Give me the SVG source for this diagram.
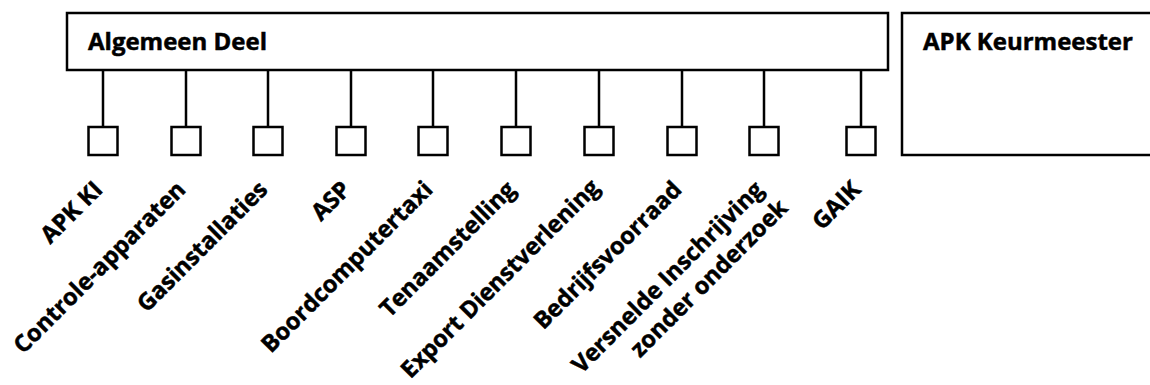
<svg xmlns="http://www.w3.org/2000/svg" width="1150" height="385" viewBox="0 0 1150 385">
<style>
.box{fill:#fff;stroke:#000;stroke-width:2.5}
.sq{fill:#fff;stroke:#000;stroke-width:2.5}
.ln{stroke:#000;stroke-width:2.5;fill:none}
.t{font-family:"Open Sans","Noto Sans","Liberation Sans",sans-serif;font-weight:bold;font-size:24px;fill:#000;stroke:#000;stroke-width:0.5}
.l{font-family:"Open Sans","Noto Sans","Liberation Sans",sans-serif;font-weight:bold;font-size:23.5px;fill:#000;stroke:#000;stroke-width:0.5;text-anchor:end}
</style>
<rect width="1150" height="385" fill="#fff"/>
<g id="algemeen-deel">
<rect class="box" x="67" y="13" width="821" height="57"/>
<text class="t" x="88" y="50">Algemeen Deel</text>
</g>
<g id="apk-keurmeester">
<rect class="box" x="902" y="13" width="260" height="142"/>
<text class="t" x="923" y="50">APK Keurmeester</text>
</g>
<g id="connectors">
<path class="ln" d="M103 70V127M186 70V127M268 70V127M351 70V127M433 70V127M516 70V127M599 70V127M682 70V127M764 70V127M861 70V127"/>
</g>
<g id="apk-ki"><rect class="sq" x="88.5" y="127" width="29" height="28"/><text class="l" transform="translate(104,191) rotate(-45)">APK KI</text></g>
<g id="controle-apparaten"><rect class="sq" x="171.5" y="127" width="29" height="28"/><text class="l" transform="translate(187,191) rotate(-45)">Controle-apparaten</text></g>
<g id="gasinstallaties"><rect class="sq" x="253.5" y="127" width="29" height="28"/><text class="l" transform="translate(269,191) rotate(-45)">Gasinstallaties</text></g>
<g id="asp"><rect class="sq" x="336.5" y="127" width="29" height="28"/><text class="l" transform="translate(352,191) rotate(-45)">ASP</text></g>
<g id="boordcomputertaxi"><rect class="sq" x="418.5" y="127" width="29" height="28"/><text class="l" transform="translate(434,191) rotate(-45)">Boordcomputertaxi</text></g>
<g id="tenaamstelling"><rect class="sq" x="501.5" y="127" width="29" height="28"/><text class="l" transform="translate(517,191) rotate(-45)">Tenaamstelling</text></g>
<g id="export-dienstverlening"><rect class="sq" x="584.5" y="127" width="29" height="28"/><text class="l" transform="translate(601,189) rotate(-45)">Export Dienstverlening</text></g>
<g id="bedrijfsvoorraad"><rect class="sq" x="667.5" y="127" width="29" height="28"/><text class="l" transform="translate(683,191) rotate(-45)">Bedrijfsvoorraad</text></g>
<g id="versnelde-inschrijving"><rect class="sq" x="749.5" y="127" width="29" height="28"/><text class="l" transform="translate(765,191) rotate(-45)"><tspan x="0" y="0">Versnelde Inschrijving</tspan><tspan x="4" y="30">zonder onderzoek</tspan></text></g>
<g id="gaik"><rect class="sq" x="846.5" y="127" width="29" height="28"/><text class="l" transform="translate(862,191) rotate(-45)">GAIK</text></g>
</svg>
